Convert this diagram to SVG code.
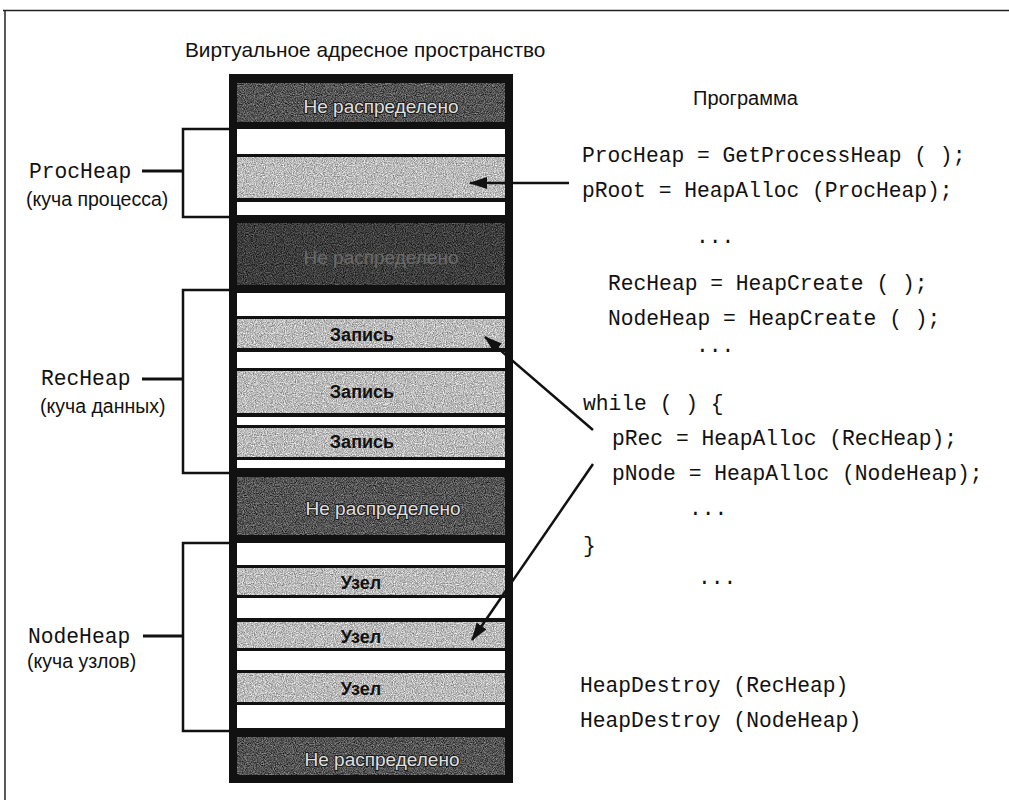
<svg xmlns="http://www.w3.org/2000/svg" width="1009" height="800" viewBox="0 0 1009 800">
<style>
.sans{font-family:"Liberation Sans",Arial,sans-serif;fill:#111}
.mono{font-family:"Liberation Mono","Courier New",monospace;font-size:21.3px;fill:#111}
.lbl{font-size:19.5px}
.band-w{fill:#fff}
.band-g{fill:#b9b9b9;filter:url(#grainL)}
.band-d{fill:#4e4e4e;filter:url(#grainD)}
.band-dd{fill:#3c3c3c;filter:url(#grainDD)}
.unal{font-family:"Liberation Sans",Arial,sans-serif;font-size:19px;fill:#e0e0e0;stroke:#1a1a1a;stroke-width:2;paint-order:stroke;text-anchor:middle}
.cell{font-family:"Liberation Sans",Arial,sans-serif;font-size:18px;font-weight:bold;fill:#111;text-anchor:middle}
.br{fill:none;stroke:#111;stroke-width:2.5}
.tick{stroke:#111;stroke-width:3}
.conn{stroke:#111;stroke-width:2.5;fill:none}
</style>
<defs>
<marker id="ah" markerUnits="userSpaceOnUse" markerWidth="18" markerHeight="12" refX="17" refY="6" orient="auto">
<path d="M0,0 L18,6 L0,12 Z" fill="#111"/>
</marker>
<filter id="grainL" x="0" y="0" width="100%" height="100%" color-interpolation-filters="sRGB">
<feTurbulence type="fractalNoise" baseFrequency="0.9" numOctaves="2" seed="4" result="n"/>
<feColorMatrix in="n" type="matrix" values="0.8 0 0 0 0.33  0.8 0 0 0 0.33  0.8 0 0 0 0.33  0 0 0 0 1" result="g"/>
<feComposite in="g" in2="SourceGraphic" operator="in"/>
</filter>
<filter id="grainD" x="0" y="0" width="100%" height="100%" color-interpolation-filters="sRGB">
<feTurbulence type="fractalNoise" baseFrequency="0.9" numOctaves="2" seed="7" result="n"/>
<feColorMatrix in="n" type="matrix" values="0.8 0 0 0 -0.07  0.8 0 0 0 -0.07  0.8 0 0 0 -0.07  0 0 0 0 1" result="g"/>
<feComposite in="g" in2="SourceGraphic" operator="in"/>
</filter>
<filter id="grainDD" x="0" y="0" width="100%" height="100%" color-interpolation-filters="sRGB">
<feTurbulence type="fractalNoise" baseFrequency="0.9" numOctaves="2" seed="9" result="n"/>
<feColorMatrix in="n" type="matrix" values="0.6 0 0 0 -0.06  0.6 0 0 0 -0.06  0.6 0 0 0 -0.06  0 0 0 0 1" result="g"/>
<feComposite in="g" in2="SourceGraphic" operator="in"/>
</filter>
</defs>
<rect width="1009" height="800" fill="#fff"/>
<g id="frame">
<line x1="3" y1="10.5" x2="1009" y2="10.5" stroke="#222" stroke-width="1.5"/>
<line x1="5" y1="10" x2="5" y2="800" stroke="#222" stroke-width="1.5"/>
</g>
<text id="title" class="sans" x="185" y="57" font-size="20.8">Виртуальное адресное пространство</text>
<text id="prog-title" class="sans" x="693" y="105" font-size="20">Программа</text>
<g id="column">
<rect x="229" y="74" width="284" height="709" fill="#111"/>
<rect class="band-d" x="237" y="83" width="268" height="39"/>
<rect class="band-w" x="237" y="129" width="268" height="25"/>
<rect class="band-g" x="237" y="157" width="268" height="41"/>
<rect class="band-w" x="237" y="202" width="268" height="13"/>
<rect class="band-dd" x="237" y="223" width="268" height="62"/>
<rect class="band-w" x="237" y="293" width="268" height="23"/>
<rect class="band-g" x="237" y="319" width="268" height="29"/>
<rect class="band-w" x="237" y="352" width="268" height="16"/>
<rect class="band-g" x="237" y="371" width="268" height="42"/>
<rect class="band-w" x="237" y="417" width="268" height="8"/>
<rect class="band-g" x="237" y="428" width="268" height="29"/>
<rect class="band-w" x="237" y="460" width="268" height="8"/>
<rect class="band-d" x="237" y="477" width="268" height="58"/>
<rect class="band-w" x="237" y="543" width="268" height="22"/>
<rect class="band-g" x="237" y="568" width="268" height="27"/>
<rect class="band-w" x="237" y="598" width="268" height="20"/>
<rect class="band-g" x="237" y="622" width="268" height="26"/>
<rect class="band-w" x="237" y="651" width="268" height="19"/>
<rect class="band-g" x="237" y="673" width="268" height="29"/>
<rect class="band-w" x="237" y="705" width="268" height="23"/>
<rect class="band-d" x="237" y="737" width="268" height="38"/>
<text class="unal" x="381" y="113">Не распределено</text>
<text class="unal" x="381" y="264" style="fill:#6a6a6a;stroke:none">Не распределено</text>
<text class="unal" x="383" y="515">Не распределено</text>
<text class="unal" x="382" y="766">Не распределено</text>
<text class="cell" x="362" y="341">Запись</text>
<text class="cell" x="362" y="398">Запись</text>
<text class="cell" x="362" y="448">Запись</text>
<text class="cell" x="361" y="589">Узел</text>
<text class="cell" x="361" y="643">Узел</text>
<text class="cell" x="361" y="695">Узел</text>
</g>
<g id="procheap">
<polyline class="br" points="229,129 183,129 183,217 229,217"/>
<line class="tick" x1="142" y1="171" x2="183" y2="171"/>
<text class="mono" x="29" y="178">ProcHeap</text>
<text class="sans lbl" x="26" y="206">(куча процесса)</text>
</g>
<g id="recheap">
<polyline class="br" points="229,290 183,290 183,473 229,473"/>
<line class="tick" x1="142" y1="379" x2="183" y2="379"/>
<text class="mono" x="41" y="385">RecHeap</text>
<text class="sans lbl" x="40" y="413">(куча данных)</text>
</g>
<g id="nodeheap">
<polyline class="br" points="229,543 183,543 183,731 229,731"/>
<line class="tick" x1="143" y1="636" x2="183" y2="636"/>
<text class="mono" x="28" y="643">NodeHeap</text>
<text class="sans lbl" x="27" y="668">(куча узлов)</text>
</g>
<g id="program">
<text class="mono" x="582" y="162">ProcHeap = GetProcessHeap ( );</text>
<text class="mono" x="582" y="197">pRoot = HeapAlloc (ProcHeap);</text>
<text class="mono" x="696" y="243">...</text>
<text class="mono" x="608" y="290">RecHeap = HeapCreate ( );</text>
<text class="mono" x="608" y="325">NodeHeap = HeapCreate ( );</text>
<text class="mono" x="696" y="352">...</text>
<text class="mono" x="583" y="410">while ( ) {</text>
<text class="mono" x="612" y="445">pRec = HeapAlloc (RecHeap);</text>
<text class="mono" x="612" y="480">pNode = HeapAlloc (NodeHeap);</text>
<text class="mono" x="689" y="515">...</text>
<text class="mono" x="583" y="552">}</text>
<text class="mono" x="698" y="584">...</text>
<text class="mono" x="580" y="692">HeapDestroy (RecHeap)</text>
<text class="mono" x="580" y="727">HeapDestroy (NodeHeap)</text>
</g>
<g id="connectors">
<line class="conn" x1="569" y1="183" x2="470" y2="183" marker-end="url(#ah)"/>
<line class="conn" x1="593" y1="430" x2="485" y2="337" marker-end="url(#ah)"/>
<line class="conn" x1="593" y1="464" x2="472" y2="640" marker-end="url(#ah)"/>
</g>
</svg>
